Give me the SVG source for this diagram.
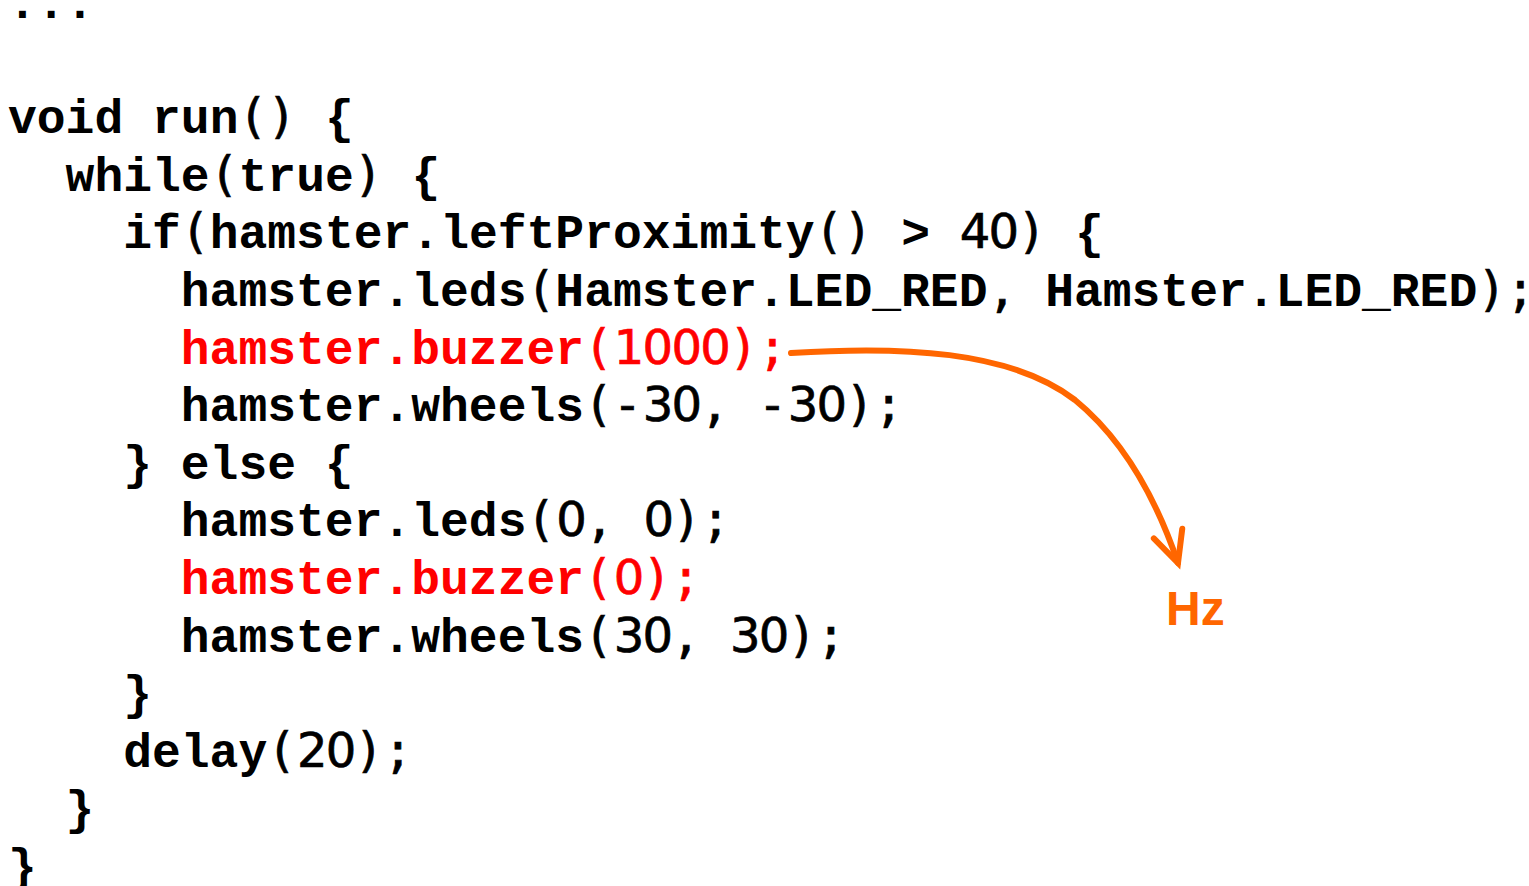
<svg xmlns="http://www.w3.org/2000/svg" width="1529" height="886" viewBox="0 0 1529 886">
  <style>
    .code { font-family: "Liberation Mono", "Courier New", monospace; font-weight: bold; font-size: 48px; fill: #000000; }
    .p { font-family: "DejaVu Sans Mono", "Liberation Mono", monospace; font-weight: normal; stroke: #000000; stroke-width: 0.7px; }
    .d { font-family: "DejaVu Sans", "Liberation Sans", sans-serif; font-weight: normal; letter-spacing: -1.73px; stroke: #000000; stroke-width: 0.7px; }
    .red { fill: #ff0000; }
    .red .p, .red .d { stroke: #ff0000; }
    .note { font-family: "Liberation Sans", Arial, sans-serif; font-weight: bold; font-size: 48px; fill: #ff6600; }
    .conn { fill: none; stroke: #ff6600; stroke-width: 6; stroke-linecap: round; stroke-linejoin: round; }
  </style>
  <defs>
    <marker id="openHead" markerUnits="userSpaceOnUse" markerWidth="80" markerHeight="80" viewBox="-40 -40 80 80" refX="0" refY="0" orient="auto" overflow="visible">
      <path d="M-31,-15 L0,0 L-31,15" fill="none" stroke="#ff6600" stroke-width="6" stroke-linecap="round" stroke-linejoin="miter"/>
    </marker>
  </defs>
  <rect width="1529" height="886" fill="#ffffff"/>

  <!-- source listing, one text line per row (column width 28.8px, row pitch 57.6px) -->
  <g id="code" class="code" xml:space="preserve">
    <text x="8" y="18">...</text>
    <text x="8" y="133.2">void run<tspan class="p">()</tspan> {</text>
    <text x="65.6" y="190.8">while<tspan class="p">(</tspan>true<tspan class="p">)</tspan> {</text>
    <text x="123.2" y="248.4">if<tspan class="p">(</tspan>hamster.leftProximity<tspan class="p">()</tspan> &gt; <tspan class="d" dx="0.8">40</tspan><tspan class="p">)</tspan> {</text>
    <text x="180.8" y="306">hamster.leds<tspan class="p">(</tspan>Hamster.LED_RED<tspan class="p">,</tspan> Hamster.LED_RED<tspan class="p">);</tspan></text>
    <text id="buzzerOn" class="red" x="180.8" y="363.6">hamster.buzzer<tspan class="p">(</tspan><tspan class="d" dx="0.8">1000</tspan><tspan class="p">);</tspan></text>
    <text x="180.8" y="421.2">hamster.wheels<tspan class="p">(-</tspan><tspan class="d" dx="0.8">30</tspan><tspan class="p">,</tspan> <tspan class="p">-</tspan><tspan class="d" dx="0.8">30</tspan><tspan class="p">);</tspan></text>
    <text x="123.2" y="478.8">} else {</text>
    <text x="180.8" y="536.4">hamster.leds<tspan class="p">(</tspan><tspan class="d" dx="0.8">0</tspan><tspan class="p">,</tspan> <tspan class="d" dx="0.8">0</tspan><tspan class="p">);</tspan></text>
    <text id="buzzerOff" class="red" x="180.8" y="594">hamster.buzzer<tspan class="p">(</tspan><tspan class="d" dx="0.8">0</tspan><tspan class="p">);</tspan></text>
    <text x="180.8" y="651.6">hamster.wheels<tspan class="p">(</tspan><tspan class="d" dx="0.8">30</tspan><tspan class="p">,</tspan> <tspan class="d" dx="0.8">30</tspan><tspan class="p">);</tspan></text>
    <text x="123.2" y="709.2">}</text>
    <text x="123.2" y="766.8">delay<tspan class="p">(</tspan><tspan class="d" dx="0.8">20</tspan><tspan class="p">);</tspan></text>
    <text x="65.6" y="824.4">}</text>
    <text x="8" y="882">}</text>
  </g>

  <!-- unit label -->
  <g id="hz">
    <text class="note" x="1166" y="625">Hz</text>
  </g>

  <!-- curved pointer from the buzzer call to the unit label -->
  <g id="connectors">
    <path class="conn" marker-end="url(#openHead)" d="M791,353 C900,346 1010,350 1075,400 C1130,445 1160,510 1178,563"/>
  </g>
</svg>
